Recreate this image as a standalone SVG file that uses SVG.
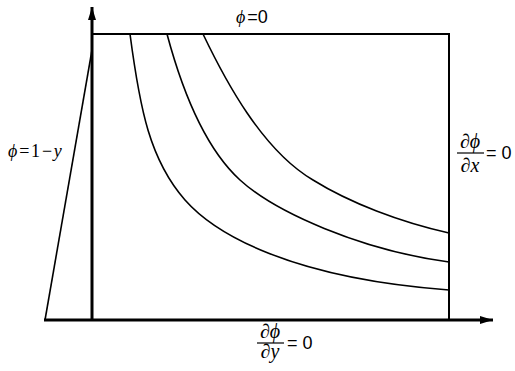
<svg xmlns="http://www.w3.org/2000/svg" width="515" height="371" viewBox="0 0 515 371">
  <defs>
    <style>
      .axis { stroke: #000; stroke-width: 3; fill: none; }
      .frame { stroke: #000; stroke-width: 2; fill: none; }
      .curve { stroke: #000; stroke-width: 1.6; fill: none; }
      .serif { font-family: "Liberation Serif", "DejaVu Serif", serif; fill: #000; }
      .sans { font-family: "Liberation Sans", "DejaVu Sans", sans-serif; fill: #000; }
      .it { font-style: italic; }
    </style>
    <marker id="arrow" markerUnits="userSpaceOnUse" markerWidth="14" markerHeight="10" refX="13" refY="5" orient="auto">
      <path d="M0,1 L13,5 L0,9 Z" fill="#000"/>
    </marker>
  </defs>
  <rect width="515" height="371" fill="#fff"/>

  <g id="connectors">
    <line id="y-axis" class="axis" x1="92" y1="321" x2="92" y2="7" marker-end="url(#arrow)"/>
    <line id="x-axis" class="axis" x1="44" y1="320" x2="493" y2="320" marker-end="url(#arrow)"/>
  </g>

  <g id="domain">
    <polyline class="frame" points="92,34 449,34 449,320"/>
  </g>

  <g id="inlet-profile">
    <line class="curve" x1="45" y1="320" x2="92" y2="50"/>
  </g>

  <g id="contours">
    <path class="curve" d="M130,34 C140,110 150,160 185,200 C215,234 290,278 449,290"/>
    <path class="curve" d="M167,34 C182,90 205,148 240,180 C275,212 360,250 449,262"/>
    <path class="curve" d="M203,34 C225,80 262,150 313,180 C350,203 400,222 449,233"/>
  </g>

  <g id="label-top">
    <text x="236" y="23" font-size="18"><tspan class="serif it">ϕ</tspan><tspan class="sans" dx="2">=0</tspan></text>
  </g>

  <g id="label-left">
    <text x="8" y="157" font-size="18" class="serif" letter-spacing="1.8"><tspan class="it">ϕ</tspan><tspan>=1−</tspan><tspan class="it">y</tspan></text>
  </g>

  <g id="label-right">
    <text x="470" y="148" font-size="20" class="serif it" text-anchor="middle">∂ϕ</text>
    <line x1="457" y1="153" x2="484" y2="153" stroke="#000" stroke-width="1.2"/>
    <text x="470" y="172" font-size="20" class="serif it" text-anchor="middle">∂x</text>
    <text x="486" y="159" font-size="18" class="sans">= 0</text>
  </g>

  <g id="label-bottom">
    <text x="270" y="338" font-size="20" class="serif it" text-anchor="middle">∂ϕ</text>
    <line x1="257" y1="343" x2="284" y2="343" stroke="#000" stroke-width="1.2"/>
    <text x="270" y="358" font-size="20" class="serif it" text-anchor="middle">∂y</text>
    <text x="287" y="349" font-size="18" class="sans">= 0</text>
  </g>
</svg>
